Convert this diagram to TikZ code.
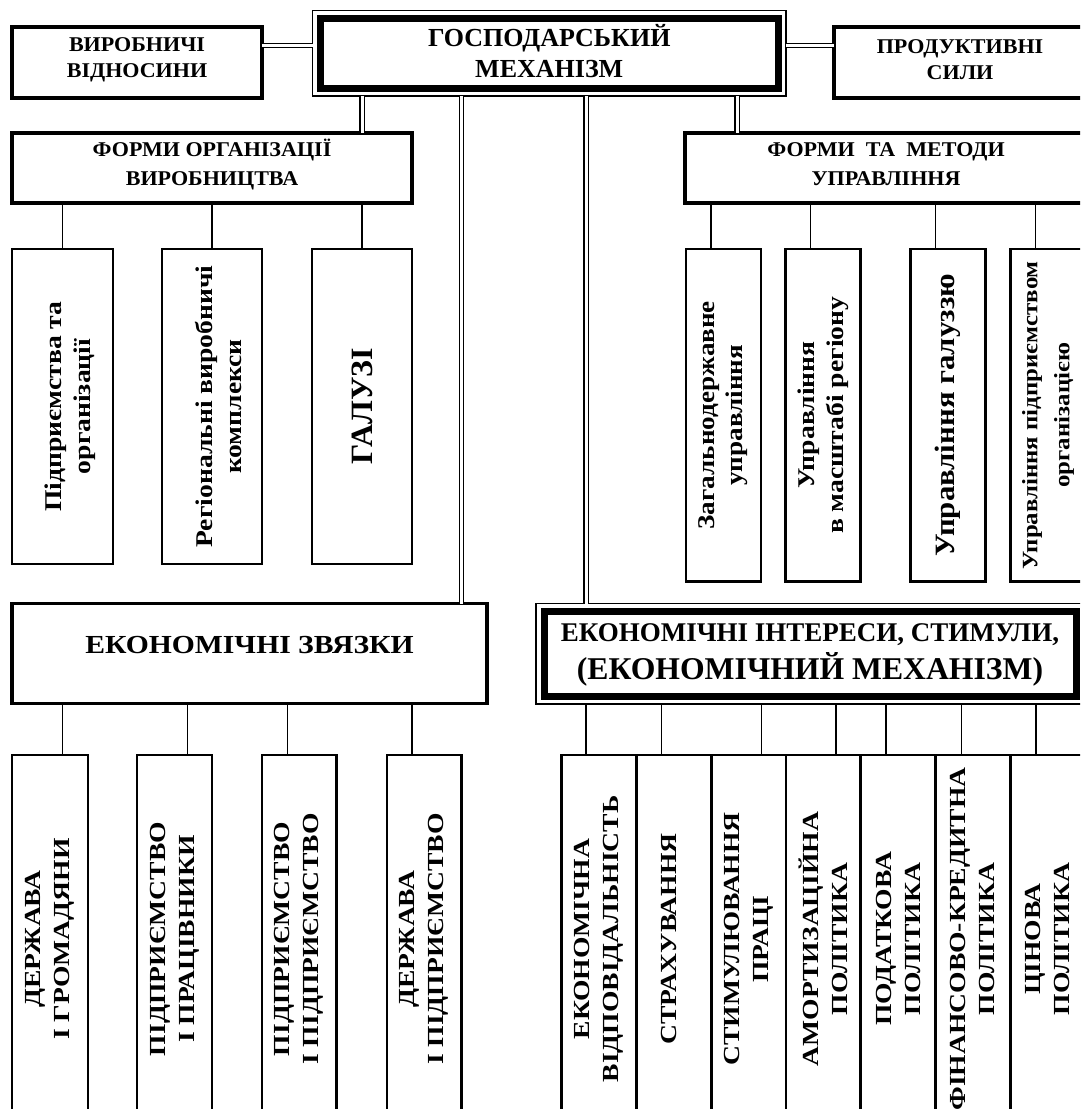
\documentclass[tikz,border=0pt]{standalone}
\usepackage{fontspec}
\setmainfont{Liberation Serif}
\usetikzlibrary{calc}
\tikzset{
  box/.style={draw, line width=3.3pt, inner sep=0pt, outer sep=0pt},
  vbox/.style={draw, line width=2.8pt, inner sep=0pt, outer sep=0pt},
  frame/.style={draw, line width=1.5pt, inner sep=0pt, outer sep=0pt},
  thickframe/.style={line width=7pt},
  dbl/.style={double, double distance=3pt, line width=1.4pt},
  con/.style={line width=1.5pt},
  txt/.style={font=\bfseries, align=center, inner sep=0pt},
  vtxt/.style={txt, rotate=90},
}
\newcommand\fsz[2]{\fontsize{#1}{#2}\selectfont}
\newcommand\st[1]{\addfontfeatures{FakeStretch=#1}}
\begin{document}
\begin{tikzpicture}[x=1pt,y=-1pt]
\useasboundingbox (0,0) rectangle (1080,1109);
\clip (0,0) rectangle (1080,1109);
\fill[white] (0,0) rectangle (1080,1109);

% ---------- top row ----------
\node[box, minimum width=250pt, minimum height=71pt] (vyr) at (137,62.5) {};
\node[txt, font=\bfseries\fsz{21}{26}\st{1.05}] at ([yshift=3pt]vyr.center) {ВИРОБНИЧІ\\ВІДНОСИНИ};

\node[frame, minimum width=473.5pt, minimum height=85.5pt] (main) at (549.25,53.25) {};
\draw[thickframe] ($(main.north west)+(8,8)$) rectangle ($(main.south east)+(-8,-8)$);
\node[txt, font=\bfseries\fsz{26}{31}] at ([yshift=2pt]main.center) {ГОСПОДАРСЬКИЙ\\МЕХАНІЗМ};

\node[box, minimum width=252pt, minimum height=71pt] (prod) at (960,62.5) {};
\node[txt, font=\bfseries\fsz{21}{26}\st{1.05}] at ([yshift=3pt]prod.center) {ПРОДУКТИВНІ\\СИЛИ};

\coordinate (hy) at (0,45.5);
\draw[dbl] (vyr.east |- hy) -- (main.west |- hy);
\draw[dbl] (main.east |- hy) -- (prod.west |- hy);

% ---------- second row ----------
\node[box, minimum width=400pt, minimum height=70pt] (formorg) at (212,168) {};
\node[txt, font=\bfseries\fsz{21}{29}\st{1.05}] at ([yshift=4pt]formorg.center) {ФОРМИ ОРГАНІЗАЦІЇ\\ВИРОБНИЦТВА};

\node[box, minimum width=402pt, minimum height=70pt] (formmet) at (886,168) {};
\node[txt, font=\bfseries\fsz{21}{29}\st{1.05}] at ([yshift=4pt]formmet.center) {ФОРМИ\ \ ТА\ \ МЕТОДИ\\УПРАВЛІННЯ};

\coordinate (v1) at (362,0);
\coordinate (v2) at (461.5,0);
\coordinate (v3) at (586,0);
\coordinate (v4) at (737,0);

% ---------- left vertical boxes ----------
\node[vbox, minimum width=101pt, minimum height=315pt] (L1) at (62.5,406.5) {};
\node[vbox, minimum width=100pt, minimum height=315pt] (L2) at (212,406.5) {};
\node[vbox, minimum width=100pt, minimum height=315pt] (L3) at (362,406.5) {};
\node[vtxt, font=\bfseries\fsz{24}{29}\st{1.15}] at ([xshift=8pt]L1.center) {Підприємства та\\організації};
\node[vtxt, font=\bfseries\fsz{24}{29}\st{1.15}] at ([xshift=7pt]L2.center) {Регіональні виробничі\\комплекси};
\node[vtxt, font=\bfseries\fsz{31}{34}\st{1.03}] at (L3.center) {ГАЛУЗІ};
\foreach \b in {L1,L2,L3} \draw[con] (formorg.south -| \b.north) -- (\b.north);

% ---------- right vertical boxes ----------
\node[vbox, minimum width=75pt, minimum height=332.5pt] (R1) at (723.5,415.25) {};
\node[vbox, minimum width=75pt, minimum height=332.5pt] (R2) at (823,415.25) {};
\node[vbox, minimum width=75pt, minimum height=332.5pt] (R3) at (948,415.25) {};
\node[vbox, minimum width=75pt, minimum height=332.5pt] (R4) at (1048,415.25) {};
\node[vtxt, font=\bfseries\fsz{24}{28}\st{1.13}] at (R1.center) {Загальнодержавне\\управління};
\node[vtxt, font=\bfseries\fsz{24}{29}\st{1.15}] at (R2.center) {Управління\\в масштабі регіону};
\node[vtxt, font=\bfseries\fsz{28}{30}\st{1.1}] at (R3.center) {Управління галуззю};
\node[vtxt, font=\bfseries\fsz{22}{32}\st{1.13}] at (R4.center) {Управління підприємством\\організацією};
\foreach \b in {R1,R2,R3,R4} \draw[con] ([xshift=-12.5pt]\b.north) -- ([xshift=-12.5pt]\b.north |- formmet.south);

% ---------- third row ----------
\node[box, minimum width=475pt, minimum height=100pt] (ekzv) at (249.5,653.5) {};
\node[txt, font=\bfseries\fsz{26}{30}\st{1.14}] at ([yshift=8pt]ekzv.center) {ЕКОНОМІЧНІ ЗВЯЗКИ};

\node[frame, minimum width=548pt, minimum height=100.5pt] (ekint) at (810,653.75) {};
\draw[thickframe] ($(ekint.north west)+(8,8)$) rectangle ($(ekint.south east)+(-8,-8)$);
\node[txt, font=\bfseries\fsz{27}{38}] at ([yshift=-1pt]ekint.center) {ЕКОНОМІЧНІ ІНТЕРЕСИ, СТИМУЛИ,\\{\fsz{31.7}{38}(ЕКОНОМІЧНИЙ МЕХАНІЗМ)}};

% ---------- double connectors from main ----------
\draw[dbl] (main.south -| v1) -- (formorg.north -| v1);
\draw[dbl] (main.south -| v2) -- (ekzv.north -| v2);
\draw[dbl] (main.south -| v3) -- (ekint.north -| v3);
\draw[dbl] (main.south -| v4) -- (formmet.north -| v4);

% ---------- bottom left boxes ----------
\node[vbox, minimum width=76pt, minimum height=368pt] (B1) at (50,939) {};
\node[vbox, minimum width=75pt, minimum height=368pt] (B2) at (174.5,939) {};
\node[vbox, minimum width=74.5pt, minimum height=368pt] (B3) at (299.25,939) {};
\node[vbox, minimum width=74.5pt, minimum height=368pt] (B4) at (424.25,939) {};
\tikzset{btxt/.style={vtxt, font=\bfseries\fsz{23}{29}\st{1.2}}}
\node[btxt] at (B1.center) {ДЕРЖАВА\\І ГРОМАДЯНИ};
\node[btxt] at (B2.center) {ПІДПРИЄМСТВО\\І ПРАЦІВНИКИ};
\node[btxt] at (B3.center) {ПІДПРИЄМСТВО\\І ПІДПРИЄМСТВО};
\node[btxt] at (B4.center) {ДЕРЖАВА\\І ПІДПРИЄМСТВО};
\draw[con] ([xshift=12.7pt]B1.north) -- ([xshift=12.7pt]B1.north |- ekzv.south);
\draw[con] ([xshift=13.2pt]B2.north) -- ([xshift=13.2pt]B2.north |- ekzv.south);
\draw[con] ([xshift=-11.75pt]B3.north) -- ([xshift=-11.75pt]B3.north |- ekzv.south);
\draw[con] ([xshift=-12.25pt]B4.north) -- ([xshift=-12.25pt]B4.north |- ekzv.south);

% ---------- bottom right boxes ----------
\node[vbox, minimum width=74.8pt, minimum height=368pt] (C1) at (598.9,939) {};
\node[vbox, minimum width=74.8pt, minimum height=368pt] (C2) at (673.7,939) {};
\node[vbox, minimum width=74.8pt, minimum height=368pt] (C3) at (748.5,939) {};
\node[vbox, minimum width=74.8pt, minimum height=368pt] (C4) at (823.3,939) {};
\node[vbox, minimum width=74.8pt, minimum height=368pt] (C5) at (898.1,939) {};
\node[vbox, minimum width=74.8pt, minimum height=368pt] (C6) at (972.9,939) {};
\node[vbox, minimum width=74.8pt, minimum height=368pt] (C7) at (1047.7,939) {};
\node[btxt] at (C1.center) {ЕКОНОМІЧНА\\ВІДПОВІДАЛЬНІСТЬ};
\node[btxt] at ([xshift=-5pt]C2.center) {СТРАХУВАННЯ};
\node[btxt] at (C3.center) {СТИМУЛЮВАННЯ\\ПРАЦІ};
\node[btxt] at (C4.center) {АМОРТИЗАЦІЙНА\\ПОЛІТИКА};
\node[btxt] at (C5.center) {ПОДАТКОВА\\ПОЛІТИКА};
\node[btxt] at (C6.center) {ФІНАНСОВО-КРЕДИТНА\\ПОЛІТИКА};
\node[btxt] at (C7.center) {ЦІНОВА\\ПОЛІТИКА};
\draw[con] ([xshift=-12.9pt]C1.north) -- ([xshift=-12.9pt]C1.north |- ekint.south);
\draw[con] ([xshift=-12.2pt]C2.north) -- ([xshift=-12.2pt]C2.north |- ekint.south);
\draw[con] ([xshift=13pt]C3.north) -- ([xshift=13pt]C3.north |- ekint.south);
\draw[con] ([xshift=12.7pt]C4.north) -- ([xshift=12.7pt]C4.north |- ekint.south);
\draw[con] ([xshift=-12.1pt]C5.north) -- ([xshift=-12.1pt]C5.north |- ekint.south);
\draw[con] ([xshift=-11.5pt]C6.north) -- ([xshift=-11.5pt]C6.north |- ekint.south);
\draw[con] ([xshift=-11.9pt]C7.north) -- ([xshift=-11.9pt]C7.north |- ekint.south);
\end{tikzpicture}
\end{document}
